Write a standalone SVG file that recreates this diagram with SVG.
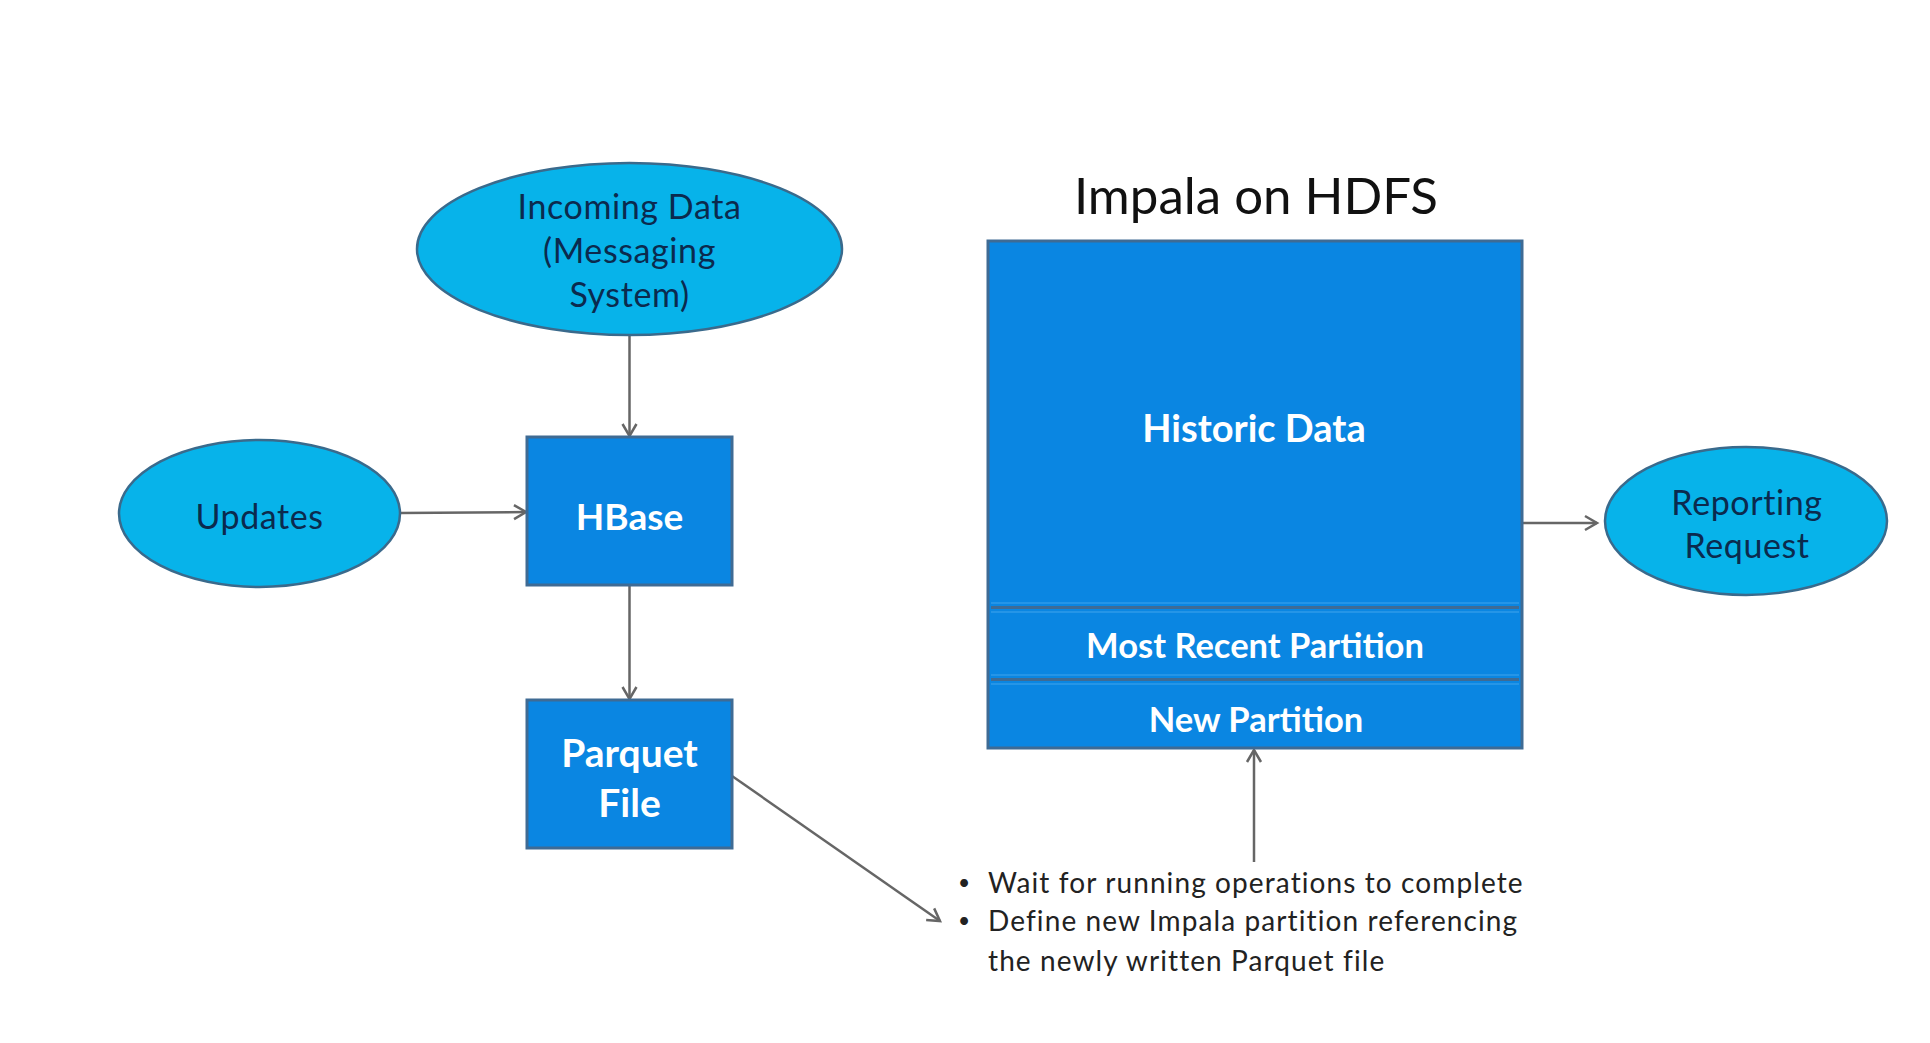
<svg xmlns="http://www.w3.org/2000/svg" width="1930" height="1043" viewBox="0 0 1930 1043">
<defs>
<style>
.ell{fill:#07b3ea;stroke:#3a6a8c;stroke-width:2.5}
.box{fill:#0a86e2;stroke:#3f6b94;stroke-width:3}
.et{font-family:Lato,"Open Sans",sans-serif;font-size:34px;letter-spacing:0.6px;fill:#0b2a4e;text-anchor:middle}
.bt{font-family:Lato,"Open Sans",sans-serif;font-weight:bold;fill:#ffffff;text-anchor:middle}
.conn{stroke:#666666;stroke-width:2.5;fill:none}
.note{font-family:Lato,"Open Sans",sans-serif;font-size:28px;letter-spacing:1.1px;fill:#222222}
.bul{font-family:Lato,"Open Sans",sans-serif;font-size:21px;fill:#222222}
</style>
<marker id="arr" markerWidth="18" markerHeight="18" refX="14" refY="9" orient="auto" markerUnits="userSpaceOnUse">
<path d="M2,2 L14,9 L2,16" fill="none" stroke="#666666" stroke-width="2.5"/>
</marker>
</defs>
<rect width="1930" height="1043" fill="#ffffff"/>

<g id="connectors">
<line class="conn" x1="629.5" y1="335" x2="629.5" y2="436" marker-end="url(#arr)"/>
<line class="conn" x1="400" y1="513" x2="526" y2="512" marker-end="url(#arr)"/>
<line class="conn" x1="629.5" y1="585" x2="629.5" y2="699" marker-end="url(#arr)"/>
<line class="conn" x1="732" y1="776" x2="940" y2="921" marker-end="url(#arr)"/>
<line class="conn" x1="1254" y1="862" x2="1254" y2="750" marker-end="url(#arr)"/>
<line class="conn" x1="1522" y1="523" x2="1597" y2="523" marker-end="url(#arr)"/>
</g>

<g id="incoming-data">
<ellipse class="ell" cx="629.5" cy="249" rx="212.5" ry="86"/>
<text class="et" x="629.5" y="219">Incoming Data</text>
<text class="et" x="629.5" y="263">(Messaging</text>
<text class="et" x="629.5" y="307">System)</text>
</g>

<g id="updates">
<ellipse class="ell" cx="259.5" cy="513.5" rx="140.5" ry="73.5"/>
<text class="et" x="259.5" y="529">Updates</text>
</g>

<g id="hbase">
<rect class="box" x="527" y="437" width="205" height="148"/>
<text class="bt" x="629.5" y="530" font-size="37">HBase</text>
</g>

<g id="parquet-file">
<rect class="box" x="527" y="700" width="205" height="148"/>
<text class="bt" x="629.5" y="767" font-size="39">Parquet</text>
<text class="bt" x="629.5" y="817" font-size="39">File</text>
</g>

<g id="impala-on-hdfs">
<text x="1256" y="214" font-family="Lato,'Open Sans',sans-serif" font-size="51" fill="#111111" text-anchor="middle">Impala on HDFS</text>
<rect class="box" x="988" y="241" width="534" height="507"/>
<line x1="991" y1="603" x2="1519" y2="603" stroke="#2f9ae9" stroke-width="1.5"/>
<line x1="991" y1="607.5" x2="1519" y2="607.5" stroke="#3f6b94" stroke-width="3"/>
<line x1="991" y1="612" x2="1519" y2="612" stroke="#2f9ae9" stroke-width="1.5"/>
<line x1="991" y1="675" x2="1519" y2="675" stroke="#2f9ae9" stroke-width="1.5"/>
<line x1="991" y1="679.5" x2="1519" y2="679.5" stroke="#3f6b94" stroke-width="3"/>
<line x1="991" y1="684" x2="1519" y2="684" stroke="#2f9ae9" stroke-width="1.5"/>
</g>

<g id="historic-data">
<text class="bt" x="1254" y="442" font-size="38">Historic Data</text>
</g>

<g id="most-recent-partition">
<text class="bt" x="1255" y="658" font-size="34.5">Most Recent Partition</text>
</g>

<g id="new-partition">
<text class="bt" x="1256" y="732" font-size="34.5">New Partition</text>
</g>

<g id="reporting-request">
<ellipse class="ell" cx="1746" cy="521" rx="141" ry="74"/>
<text class="et" x="1747" y="515">Reporting</text>
<text class="et" x="1747" y="558">Request</text>
</g>

<g id="steps-note">
<text class="bul" x="958" y="890">•</text>
<text class="note" x="988" y="893">Wait for running operations to complete</text>
<text class="bul" x="958" y="928">•</text>
<text class="note" x="988" y="931">Define new Impala partition referencing</text>
<text class="note" x="988" y="971">the newly written Parquet file</text>
</g>
</svg>
